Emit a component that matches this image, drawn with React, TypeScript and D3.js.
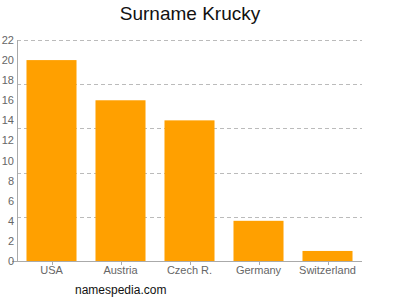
import React from "react";
import * as d3 from "d3";

const categories = ["USA", "Austria", "Czech R.", "Germany", "Switzerland"];
const values = [20, 16, 14, 4, 1];
const yTicks = [0, 2, 4, 6, 8, 10, 12, 14, 16, 18, 20, 22];
const gridValues = [4.4, 8.8, 13.2, 17.6, 22];
const title = "Surname Krucky";
const footer = "namespedia.com";

const W = 400;
const H = 300;
const left = 17;
const right = 362;
const top = 40;
const bottom = 261;
const font = "Liberation Sans, Arial, Helvetica, sans-serif";

export default function App() {
  const x = d3
    .scaleBand<string>()
    .domain(categories)
    .range([left, right])
    .paddingInner(0.275)
    .paddingOuter(0.1375);
  const y = d3.scaleLinear().domain([0, 22]).range([bottom, top]);

  return (
    <svg
      width={W}
      height={H}
      style={{ position: "absolute", left: 0, top: 0, background: "#fff" }}
      fontFamily={font}
    >
      <text x={190} y={20} textAnchor="middle" fontSize={19} fill="#111">
        {title}
      </text>
      {gridValues.map((g) => (
        <line
          key={g}
          x1={left}
          x2={right}
          y1={Math.round(y(g)) + 0.5}
          y2={Math.round(y(g)) + 0.5}
          stroke="#bbb"
          strokeDasharray="4,3"
        />
      ))}
      {categories.map((c, i) => (
        <rect
          key={c}
          x={x(c)}
          y={y(values[i])}
          width={x.bandwidth()}
          height={bottom - y(values[i])}
          fill="#ffa000"
        />
      ))}
      <line x1={left + 0.5} x2={left + 0.5} y1={top} y2={bottom} stroke="#aaa" />
      <line x1={12} x2={right} y1={bottom + 0.5} y2={bottom + 0.5} stroke="#aaa" />
      {categories.map((c) => (
        <line
          key={c}
          x1={Math.round(x(c)! + x.bandwidth() / 2) + 0.5}
          x2={Math.round(x(c)! + x.bandwidth() / 2) + 0.5}
          y1={bottom}
          y2={bottom + 4}
          stroke="#aaa"
        />
      ))}
      {yTicks.map((t) => (
        <text
          key={t}
          x={14}
          y={y(t) + 4}
          textAnchor="end"
          fontSize={11}
          fill="#666"
        >
          {t}
        </text>
      ))}
      {categories.map((c) => (
        <text
          key={c}
          x={x(c)! + x.bandwidth() / 2}
          y={274}
          textAnchor="middle"
          fontSize={11}
          fill="#666"
        >
          {c}
        </text>
      ))}
      <text x={75} y={294} fontSize={12} fill="#111">
        {footer}
      </text>
    </svg>
  );
}
